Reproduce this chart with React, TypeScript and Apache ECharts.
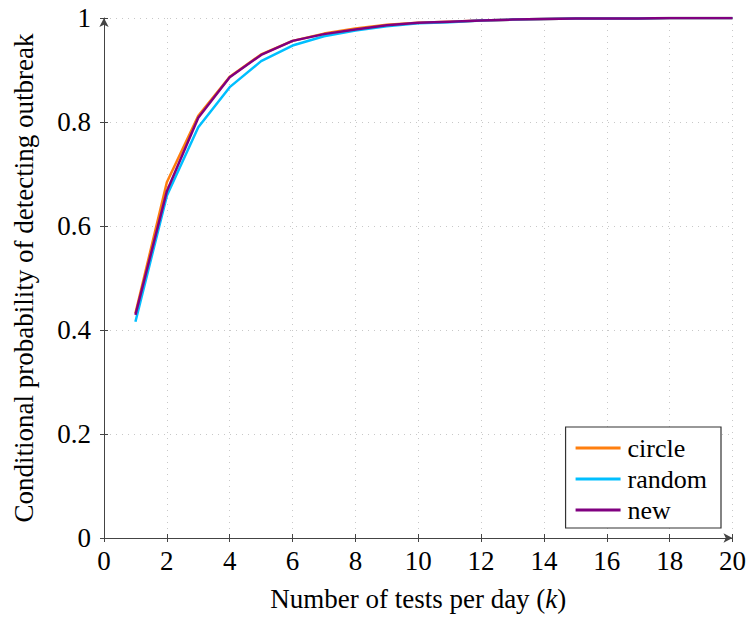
import React, { useEffect, useRef } from "react";
import * as echarts from "echarts";

const kValues = [1, 2, 3, 4, 5, 6, 7, 8, 9, 10, 11, 12, 13, 14, 15, 16, 17, 18, 19, 20];
const circle = [0.432, 0.684, 0.812, 0.887, 0.93, 0.956, 0.97, 0.98, 0.987, 0.991, 0.993, 0.995, 0.997, 0.998, 0.999, 0.999, 0.999, 1.0, 1.0, 1.0];
const random = [0.416, 0.658, 0.79, 0.867, 0.917, 0.947, 0.965, 0.976, 0.984, 0.99, 0.992, 0.995, 0.997, 0.998, 0.999, 0.999, 0.999, 1.0, 1.0, 1.0];
const newer = [0.429, 0.667, 0.808, 0.886, 0.929, 0.956, 0.969, 0.978, 0.986, 0.991, 0.993, 0.995, 0.997, 0.998, 0.999, 0.999, 0.999, 1.0, 1.0, 1.0];
const seriesNames = ["circle", "random", "new"];
const seriesColors = ["#ff7f0e", "#00bfff", "#800080"];
const xMin = 0, xMax = 20, xStep = 2;
const yMin = 0, yMax = 1, yStep = 0.2;

const FONT = "Liberation Serif";
const AXIS_COLOR = "#444";

export default function App() {
  const ref = useRef<HTMLDivElement>(null);
  useEffect(() => {
    if (!ref.current) return;
    const chart = echarts.init(ref.current, null, { renderer: "svg" });
    const data = [circle, random, newer];
    const tickOnly = {
      show: true,
      axisLine: { show: false },
      axisLabel: { show: false },
      splitLine: { show: false },
      axisTick: { show: true, inside: false, length: 4, lineStyle: { color: AXIS_COLOR } },
    };
    chart.setOption({
      animation: false,
      textStyle: { fontFamily: FONT },
      grid: { left: 104, right: 14, top: 18, bottom: 77, containLabel: false },
      legend: {
        orient: "vertical",
        right: 28,
        bottom: 89,
        icon: "rect",
        itemWidth: 45,
        itemHeight: 3,
        itemGap: 5,
        padding: [8, 14, 5, 10],
        borderColor: "#333",
        borderWidth: 1.2,
        borderRadius: 0,
        backgroundColor: "#fff",
        textStyle: { fontFamily: FONT, fontSize: 26, color: "#000", padding: [0, 0, 0, 2] },
        data: seriesNames,
      },
      xAxis: [
        {
          type: "value",
          position: "bottom",
          min: xMin,
          max: xMax,
          interval: xStep,
          name: "Number of tests per day ({i|k})",
          nameLocation: "middle",
          nameGap: 47,
          nameTextStyle: {
            fontFamily: FONT,
            fontSize: 27,
            color: "#000",
            rich: { i: { fontFamily: FONT, fontSize: 27, fontStyle: "italic", color: "#000" } },
          },
          axisLine: { show: true, lineStyle: { color: AXIS_COLOR, width: 1 }, symbol: ["none", "arrow"], symbolSize: [7, 9] },
          axisTick: { show: true, inside: true, length: 4, lineStyle: { color: AXIS_COLOR } },
          axisLabel: { fontFamily: FONT, fontSize: 27, color: "#000", margin: 9 },
          splitLine: { show: true, lineStyle: { color: "#c8c8c8", type: [1, 5], width: 1 } },
        },
        { type: "value", position: "bottom", min: xMin, max: xMax, interval: xStep, ...tickOnly },
      ],
      yAxis: [
        {
          type: "value",
          position: "left",
          min: yMin,
          max: yMax,
          interval: yStep,
          name: "Conditional probability of detecting outbreak",
          nameLocation: "middle",
          nameGap: 67,
          nameRotate: 90,
          nameTextStyle: { fontFamily: FONT, fontSize: 27, color: "#000" },
          axisLine: { show: true, lineStyle: { color: AXIS_COLOR, width: 1 }, symbol: ["none", "arrow"], symbolSize: [7, 9] },
          axisTick: { show: true, inside: true, length: 4, lineStyle: { color: AXIS_COLOR } },
          axisLabel: {
            fontFamily: FONT,
            fontSize: 27,
            color: "#000",
            margin: 13,
            formatter: (v: number) => (v === 0 ? "0" : v === 1 ? "1" : String(Number(v.toFixed(1)))),
          },
          splitLine: { show: true, lineStyle: { color: "#c8c8c8", type: [1, 5], width: 1 } },
        },
        { type: "value", position: "left", min: yMin, max: yMax, interval: yStep, ...tickOnly },
      ],
      series: seriesNames.map((name, i) => ({
        name,
        type: "line",
        xAxisIndex: 0,
        yAxisIndex: 0,
        data: kValues.map((k, j) => [k, data[i][j]]),
        showSymbol: false,
        symbol: "none",
        lineStyle: { color: seriesColors[i], width: 2.5 },
        itemStyle: { color: seriesColors[i] },
        z: 2 + i,
      })),
    });
    return () => chart.dispose();
  }, []);
  return <div ref={ref} style={{ width: 749, height: 617, position: "absolute", left: 0, top: 0, background: "#fff" }} />;
}
